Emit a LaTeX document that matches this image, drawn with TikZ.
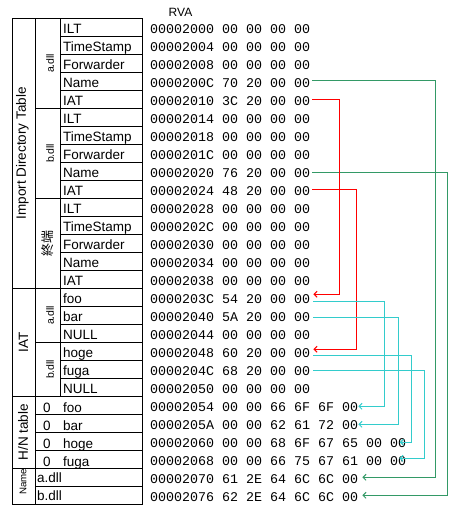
\documentclass[tikz,border=0pt]{standalone}
\usepackage{fontspec}
\setmainfont{Liberation Sans}
\newfontfamily\hexfont{Liberation Mono}
\newfontfamily\cjkfont{Noto Sans CJK JP}
\usetikzlibrary{arrows.meta,calc}
\definecolor{lgreen}{RGB}{51,153,102}
\definecolor{lcyan}{RGB}{51,204,204}
\definecolor{lred}{RGB}{255,0,0}
\begin{document}
\begin{tikzpicture}[x=1pt,y=-1pt,
  grid/.style={line width=0.8pt, black},
  lbl/.style={anchor=base west, inner sep=0pt, font=\fontsize{13.5}{16}\selectfont},
  vlbl/.style={rotate=90, inner sep=0pt, font=\fontsize{13.5}{16}\selectfont},
  dll/.style={rotate=90, inner sep=0pt, font=\fontsize{10.5}{12}\selectfont},
  hex/.style={anchor=base west, inner sep=0pt, text height=9pt, text depth=0pt, font=\hexfont\fontsize{13.33}{16}\selectfont},
  link/.style={line width=1pt, -{Straight Barb[length=3pt,width=6pt]}}
]
\useasboundingbox (0,0) rectangle (467,513);

% grid
\draw[grid] (12,18.3) rectangle (142,504.3);
\draw[grid] (35,18.3) -- (35,504.3);
\draw[grid] (60,18.3) -- (60,396.3);
\foreach \r in {1,...,20} \draw[grid] (60,{18.3+18*\r}) -- (142,{18.3+18*\r});
\foreach \r in {5,10,18,22,23,24,26} \draw[grid] (35,{18.3+18*\r}) -- (142,{18.3+18*\r});
\foreach \r in {15,21,25} \draw[grid] (12,{18.3+18*\r}) -- (142,{18.3+18*\r});

% header
\node[inner sep=0pt, font=\fontsize{12}{14}\selectfont] (rva) at (180.5,12) {RVA};

% vertical labels
\node[vlbl] (idt) at (22.5,153.3) {Import Directory Table};
\node[dll] (dA) at (50,63.3) {a.dll};
\node[dll] (dB) at (50,153.3) {b.dll};
\node[rotate=90, inner sep=0pt, font=\cjkfont\fontsize{13}{15}\selectfont] (dEnd) at (47.5,243.3) {終端};
\node[vlbl] (iat) at (23.5,342.3) {IAT};
\node[dll] (iA) at (50,315.3) {a.dll};
\node[dll] (iB) at (50,369.3) {b.dll};
\node[vlbl] (hn) at (23,432.3) {H/N table};
\node[rotate=90, inner sep=0pt, font=\fontsize{9.7}{11}\selectfont] (nm) at (23,482) {Name};

% field labels
\foreach \t [count=\r from 0] in {ILT,TimeStamp,Forwarder,Name,IAT,ILT,TimeStamp,Forwarder,Name,IAT,ILT,TimeStamp,Forwarder,Name,IAT,foo,bar,NULL,hoge,fuga,NULL}
  \node[lbl] (f\r) at (63,{18.3+18*\r+15.5}) {\t};

% hint/name table
\foreach \t [count=\r from 21] in {foo,bar,hoge,fuga} {
  \node[lbl, anchor=base] (z\r) at (47,{18.3+18*\r+16.5}) {0};
  \node[lbl] (n\r) at (63,{18.3+18*\r+16.5}) {\t};
}
\node[lbl] (n25) at (37,{18.3+18*25+14}) {a.dll};
\node[lbl] (n26) at (37,{18.3+18*26+14}) {b.dll};

% hex dump
\foreach \t [count=\r from 0] in {
  00002000 00 00 00 00, 00002004 00 00 00 00, 00002008 00 00 00 00,
  0000200C 70 20 00 00, 00002010 3C 20 00 00, 00002014 00 00 00 00,
  00002018 00 00 00 00, 0000201C 00 00 00 00, 00002020 76 20 00 00,
  00002024 48 20 00 00, 00002028 00 00 00 00, 0000202C 00 00 00 00,
  00002030 00 00 00 00, 00002034 00 00 00 00, 00002038 00 00 00 00,
  0000203C 54 20 00 00, 00002040 5A 20 00 00, 00002044 00 00 00 00,
  00002048 60 20 00 00, 0000204C 68 20 00 00, 00002050 00 00 00 00,
  00002054 00 00 66 6F 6F 00, 0000205A 00 00 62 61 72 00,
  00002060 00 00 68 6F 67 65 00 00, 00002068 00 00 66 75 67 61 00 00,
  00002070 61 2E 64 6C 6C 00, 00002076 62 2E 64 6C 6C 00}
  \node[hex] (h\r) at (150,{18.3+18*\r+15.2}) {\t};

% connectors
\draw[link,lgreen] ([shift={(2pt,2.7pt)}]h3.east) -- ++(123.3,0) |- ([shift={(4pt,1.7pt)}]h25.east);
\draw[link,lgreen] ([shift={(2pt,0.7pt)}]h8.east) -- ++(135.3,0) |- ([shift={(4pt,1.7pt)}]h26.east);
\draw[link,lred] ([shift={(2pt,1.7pt)}]h4.east) -- ++(27.3,0) |- ([shift={(3pt,4.7pt)}]h15.east);
\draw[link,lred] ([shift={(2pt,1.7pt)}]h9.east) -- ++(44.3,0) |- ([shift={(3pt,3.7pt)}]h18.east);
\draw[link,lcyan] ([shift={(3pt,-2.3pt)}]h15.east) -- ++(71.3,0) |- ([shift={(0pt,0.7pt)}]h21.east);
\draw[link,lcyan] ([shift={(3pt,-0.3pt)}]h16.east) -- ++(85.3,0) |- ([shift={(0pt,0.7pt)}]h22.east);
\draw[link,lcyan] ([shift={(3pt,-2.3pt)}]h18.east) -- ++(98,0) |- ([shift={(-6.7pt,0.7pt)}]h23.east);
\draw[link,lcyan] ([shift={(3pt,0.7pt)}]h19.east) -- ++(110.7,0) |- ([shift={(-7pt,2.7pt)}]h24.east);
\end{tikzpicture}
\end{document}
